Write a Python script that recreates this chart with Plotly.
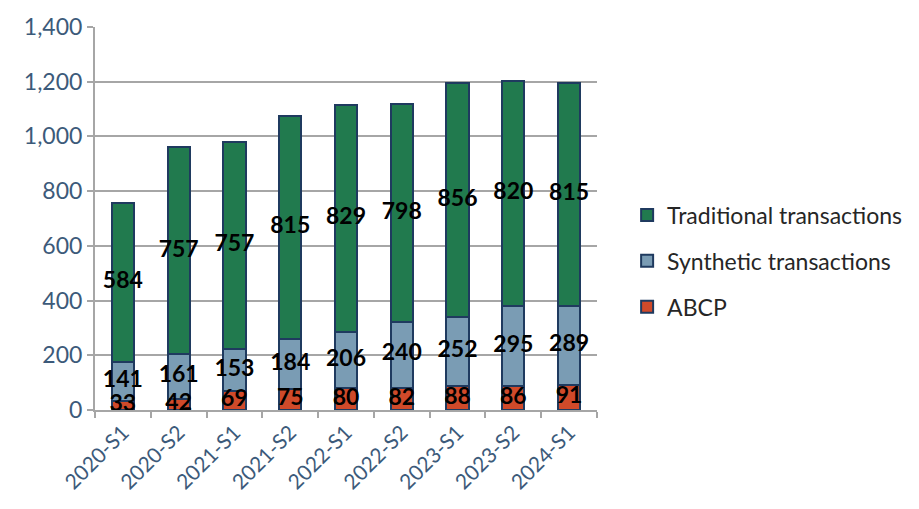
import plotly.graph_objects as go

categories = ["2020-S1", "2020-S2", "2021-S1", "2021-S2", "2022-S1", "2022-S2", "2023-S1", "2023-S2", "2024-S1"]
abcp = [33, 42, 69, 75, 80, 82, 88, 86, 91]
synthetic = [141, 161, 153, 184, 206, 240, 252, 295, 289]
traditional = [584, 757, 757, 815, 829, 798, 856, 820, 815]

outline = "#1F3A5F"
font_family = "Lato, 'Open Sans', sans-serif"

series = [
    ("ABCP", abcp, "#D04A2A", 3),
    ("Synthetic transactions", synthetic, "#7A9CB4", 2),
    ("Traditional transactions", traditional, "#217A4E", 1),
]

fig = go.Figure()
for name, vals, color, rank in series:
    fig.add_trace(go.Bar(
        x=categories, y=vals, name=name, legendgroup=name, legendrank=rank,
        marker=dict(color=color, line=dict(color=outline, width=2)),
        width=0.4,
    ))

# value labels centred in each segment, drawn above all bars
cum = [0] * len(categories)
for name, vals, color, rank in series:
    mids = [c + v / 2 for c, v in zip(cum, vals)]
    cum = [c + v for c, v in zip(cum, vals)]
    fig.add_trace(go.Scatter(
        x=categories, y=mids, mode="text", text=[str(v) for v in vals],
        textposition="middle center", showlegend=False, hoverinfo="skip",
        cliponaxis=False,
        textfont=dict(family=font_family, size=23, color="black", weight="bold"),
    ))

fig.update_layout(
    barmode="stack",
    width=919, height=509,
    margin=dict(l=95, r=322, t=21, b=99),
    plot_bgcolor="white", paper_bgcolor="white",
    font=dict(family=font_family),
    legend=dict(
        x=1.06, y=0.389, yanchor="middle", xanchor="left",
        traceorder="grouped",
        font=dict(size=23, color="#262626"),
        itemsizing="constant",
        tracegroupgap=13,
        borderwidth=0,
    ),
    xaxis=dict(
        showline=True, linecolor="#A6A6A6", linewidth=2,
        ticks="outside", ticklen=6, tickcolor="#A6A6A6", tickwidth=2,
        tickson="boundaries",
        tickangle=-45,
        tickfont=dict(size=21, color="#3C5A7A"),
    ),
    yaxis=dict(
        range=[0, 1400], dtick=200,
        tickformat=",d",
        showline=True, linecolor="#A6A6A6", linewidth=2,
        ticks="outside", ticklen=6, tickcolor="#A6A6A6", tickwidth=2,
        showgrid=True, gridcolor="#A6A6A6", gridwidth=1.5,
        tickfont=dict(size=23, color="#3C5A7A"),
        zeroline=False,
    ),
)

fig.write_html("out.html")
